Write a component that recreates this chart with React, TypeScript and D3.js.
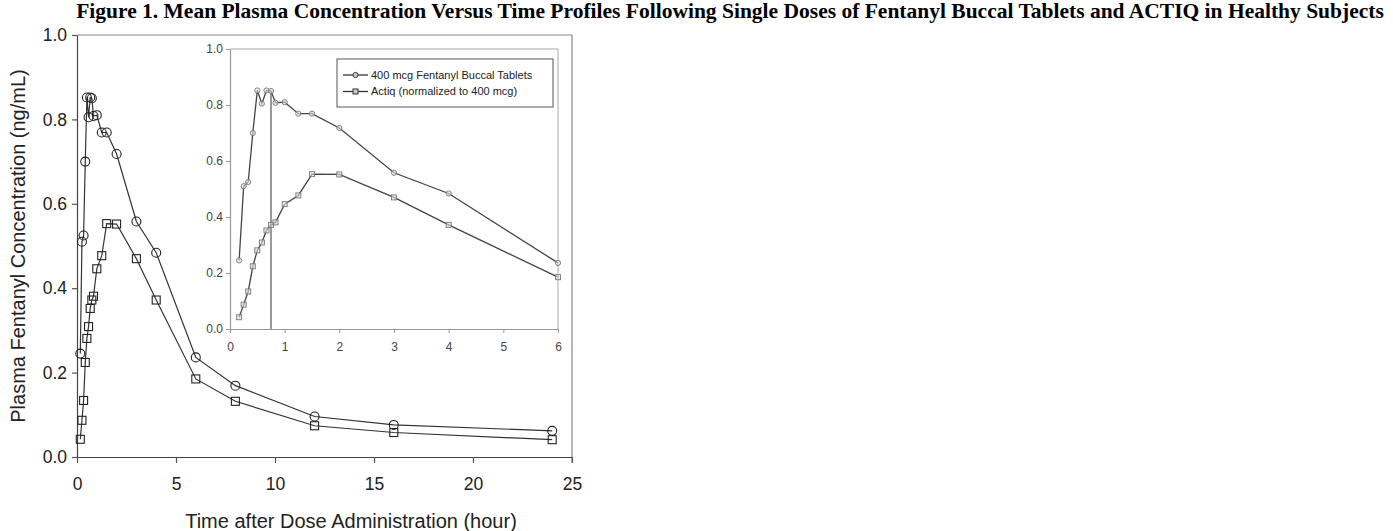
import React, { Component } from 'react';
import * as d3 from 'd3';

// sampling times (hour) and mean plasma concentrations (ng/mL)
const times = [0.167, 0.25, 0.333, 0.417, 0.5, 0.583, 0.667, 0.75, 0.833, 1, 1.25, 1.5, 2, 3, 4, 6, 8, 12, 16, 24];
const buccal = [0.245, 0.51, 0.525, 0.70, 0.852, 0.805, 0.852, 0.85, 0.808, 0.81, 0.769, 0.769, 0.718, 0.558, 0.484, 0.236, 0.169, 0.096, 0.076, 0.062];
const actiq = [0.042, 0.087, 0.134, 0.224, 0.281, 0.309, 0.352, 0.372, 0.381, 0.446, 0.477, 0.553, 0.552, 0.47, 0.372, 0.185, 0.132, 0.074, 0.058, 0.041];

const seriesNames = ['400 mcg Fentanyl Buccal Tablets', 'Actiq (normalized to 400 mcg)'];
const mainXTicks = [0, 5, 10, 15, 20, 25];
const yTicks = [0, 0.2, 0.4, 0.6, 0.8, 1.0];
const insetXTicks = [0, 1, 2, 3, 4, 5, 6];
const insetMaxTime = 6;
const insetMarkerX = 0.75;
const insetMarkerTop = 0.85;

const title = 'Figure 1. Mean Plasma Concentration Versus Time Profiles Following Single Doses of Fentanyl Buccal Tablets and ACTIQ in Healthy Subjects';
const xLabel = 'Time after Dose Administration (hour)';
const yLabel = 'Plasma Fentanyl Concentration (ng/mL)';

const sans = '"Liberation Sans", Arial, sans-serif';

type Pt = { t: number; v: number };

class App extends Component {
    node: HTMLDivElement | null = null;
    width = 1393;
    height = 531;

    componentDidMount() {
        this.draw();
    }

    draw() {
        const node = this.node;
        d3.select(node).selectAll('*').remove();

        const svg = d3.select(node)
            .append('svg')
            .attr('width', this.width)
            .attr('height', this.height)
            .style('position', 'absolute')
            .style('left', 0)
            .style('top', 0)
            .style('background', '#fff');

        const buccalPts: Pt[] = times.map((t, i) => ({ t, v: buccal[i] }));
        const actiqPts: Pt[] = times.map((t, i) => ({ t, v: actiq[i] }));

        // title
        svg.append('text')
            .attr('x', 730)
            .attr('y', 18)
            .attr('text-anchor', 'middle')
            .style('font', 'bold 21.5px "Liberation Serif", "Times New Roman", serif')
            .attr('fill', '#000')
            .text(title);

        // ---------- main chart ----------
        const x = d3.scaleLinear().domain([0, 25]).range([77, 572]);
        const y = d3.scaleLinear().domain([0, 1]).range([457, 35]);

        // frame top / right
        svg.append('path')
            .attr('d', `M${x(0)},${y(1)}H${x(25)}V${y(0) + 6}`)
            .attr('fill', 'none')
            .attr('stroke', '#888')
            .attr('stroke-width', 1.2);

        const xAxis = svg.append('g')
            .attr('transform', `translate(0,${y(0)})`)
            .call(d3.axisBottom(x).tickValues(mainXTicks).tickSize(6).tickSizeOuter(0).tickPadding(15).tickFormat(d3.format('d')));
        const yAxis = svg.append('g')
            .attr('transform', `translate(${x(0)},0)`)
            .call(d3.axisLeft(y).tickValues(yTicks).tickSize(5).tickSizeOuter(0).tickPadding(5).tickFormat(d3.format('.1f')));

        [xAxis, yAxis].forEach(g => {
            g.selectAll('path').attr('stroke', '#444').attr('stroke-width', 1.2);
            g.selectAll('line').attr('stroke', '#555').attr('stroke-width', 1.2);
            g.selectAll('text').style('font', `17.5px ${sans}`).attr('fill', '#222');
        });

        svg.append('text')
            .attr('x', 351)
            .attr('y', 528)
            .attr('text-anchor', 'middle')
            .style('font', `20px ${sans}`)
            .attr('fill', '#222')
            .text(xLabel);

        svg.append('text')
            .attr('transform', 'translate(24.5,246) rotate(-90)')
            .attr('text-anchor', 'middle')
            .style('font', `20px ${sans}`)
            .attr('fill', '#222')
            .text(yLabel);

        const line = d3.line<Pt>().x(d => x(d.t)).y(d => y(d.v));
        [buccalPts, actiqPts].forEach(pts => {
            svg.append('path')
                .attr('d', line(pts))
                .attr('fill', 'none')
                .attr('stroke', '#333')
                .attr('stroke-width', 1.2);
        });

        svg.append('g').selectAll('circle')
            .data(buccalPts)
            .enter().append('circle')
            .attr('cx', d => x(d.t))
            .attr('cy', d => y(d.v))
            .attr('r', 4.5)
            .attr('fill', 'none')
            .attr('stroke', '#222')
            .attr('stroke-width', 1.1);

        svg.append('g').selectAll('rect')
            .data(actiqPts)
            .enter().append('rect')
            .attr('x', d => x(d.t) - 4)
            .attr('y', d => y(d.v) - 4)
            .attr('width', 8)
            .attr('height', 8)
            .attr('fill', 'none')
            .attr('stroke', '#222')
            .attr('stroke-width', 1.1);

        // ---------- inset (first 6 hours) ----------
        const xi = d3.scaleLinear().domain([0, insetMaxTime]).range([230, 558]);
        const yi = d3.scaleLinear().domain([0, 1]).range([329, 49]);
        const inset = svg.append('g');

        inset.append('path')
            .attr('d', `M${xi(0)},${yi(1)}H${xi(insetMaxTime)}V${yi(0)}`)
            .attr('fill', 'none')
            .attr('stroke', '#aaa')
            .attr('stroke-width', 1);

        const xiAxis = inset.append('g')
            .attr('transform', `translate(0,${yi(0)})`)
            .call(d3.axisBottom(xi).tickValues(insetXTicks).tickSize(4).tickSizeOuter(0).tickPadding(9).tickFormat(d3.format('d')));
        const yiAxis = inset.append('g')
            .attr('transform', `translate(${xi(0)},0)`)
            .call(d3.axisLeft(yi).tickValues(yTicks).tickSize(4).tickSizeOuter(0).tickPadding(3).tickFormat(d3.format('.1f')));

        [xiAxis, yiAxis].forEach(g => {
            g.selectAll('path').attr('stroke', '#999').attr('stroke-width', 1.2);
            g.selectAll('line').attr('stroke', '#999');
            g.selectAll('text').style('font', `12px ${sans}`).attr('fill', '#444');
        });

        const early = (pts: Pt[]) => pts.filter(d => d.t <= insetMaxTime);
        const lineI = d3.line<Pt>().x(d => xi(d.t)).y(d => yi(d.v));

        inset.append('line')
            .attr('x1', xi(insetMarkerX))
            .attr('x2', xi(insetMarkerX))
            .attr('y1', yi(0))
            .attr('y2', yi(insetMarkerTop))
            .attr('stroke', '#555')
            .attr('stroke-width', 1.2);

        [early(buccalPts), early(actiqPts)].forEach(pts => {
            inset.append('path')
                .attr('d', lineI(pts))
                .attr('fill', 'none')
                .attr('stroke', '#444')
                .attr('stroke-width', 1.3);
        });

        inset.append('g').selectAll('circle')
            .data(early(buccalPts))
            .enter().append('circle')
            .attr('cx', d => xi(d.t))
            .attr('cy', d => yi(d.v))
            .attr('r', 2.6)
            .attr('fill', '#ddd')
            .attr('fill-opacity', 0.6)
            .attr('stroke', '#777')
            .attr('stroke-width', 0.9);

        inset.append('g').selectAll('rect')
            .data(early(actiqPts))
            .enter().append('rect')
            .attr('x', d => xi(d.t) - 2.5)
            .attr('y', d => yi(d.v) - 2.5)
            .attr('width', 5)
            .attr('height', 5)
            .attr('fill', '#ddd')
            .attr('fill-opacity', 0.6)
            .attr('stroke', '#777')
            .attr('stroke-width', 0.9);

        // legend
        const legend = inset.append('g').attr('transform', 'translate(337,59)');
        legend.append('rect')
            .attr('width', 216)
            .attr('height', 48)
            .attr('fill', '#fff')
            .attr('stroke', '#555')
            .attr('stroke-width', 1);

        seriesNames.forEach((name, i) => {
            const row = legend.append('g').attr('transform', `translate(0,${16 + i * 16.5})`);
            row.append('line')
                .attr('x1', 6).attr('x2', 31)
                .attr('stroke', '#333')
                .attr('stroke-width', 1.3);
            if (i === 0) {
                row.append('circle').attr('cx', 18.5).attr('r', 2.6)
                    .attr('fill', '#ccc').attr('stroke', '#333').attr('stroke-width', 1);
            } else {
                row.append('rect').attr('x', 16).attr('y', -2.5).attr('width', 5).attr('height', 5)
                    .attr('fill', '#ccc').attr('stroke', '#333').attr('stroke-width', 1);
            }
            row.append('text')
                .attr('x', 34)
                .attr('dy', '0.35em')
                .style('font', `11px ${sans}`)
                .attr('fill', '#222')
                .text(name);
        });
    }

    render() {
        return <div ref={node => { this.node = node; }}></div>;
    }
}

export default App;
